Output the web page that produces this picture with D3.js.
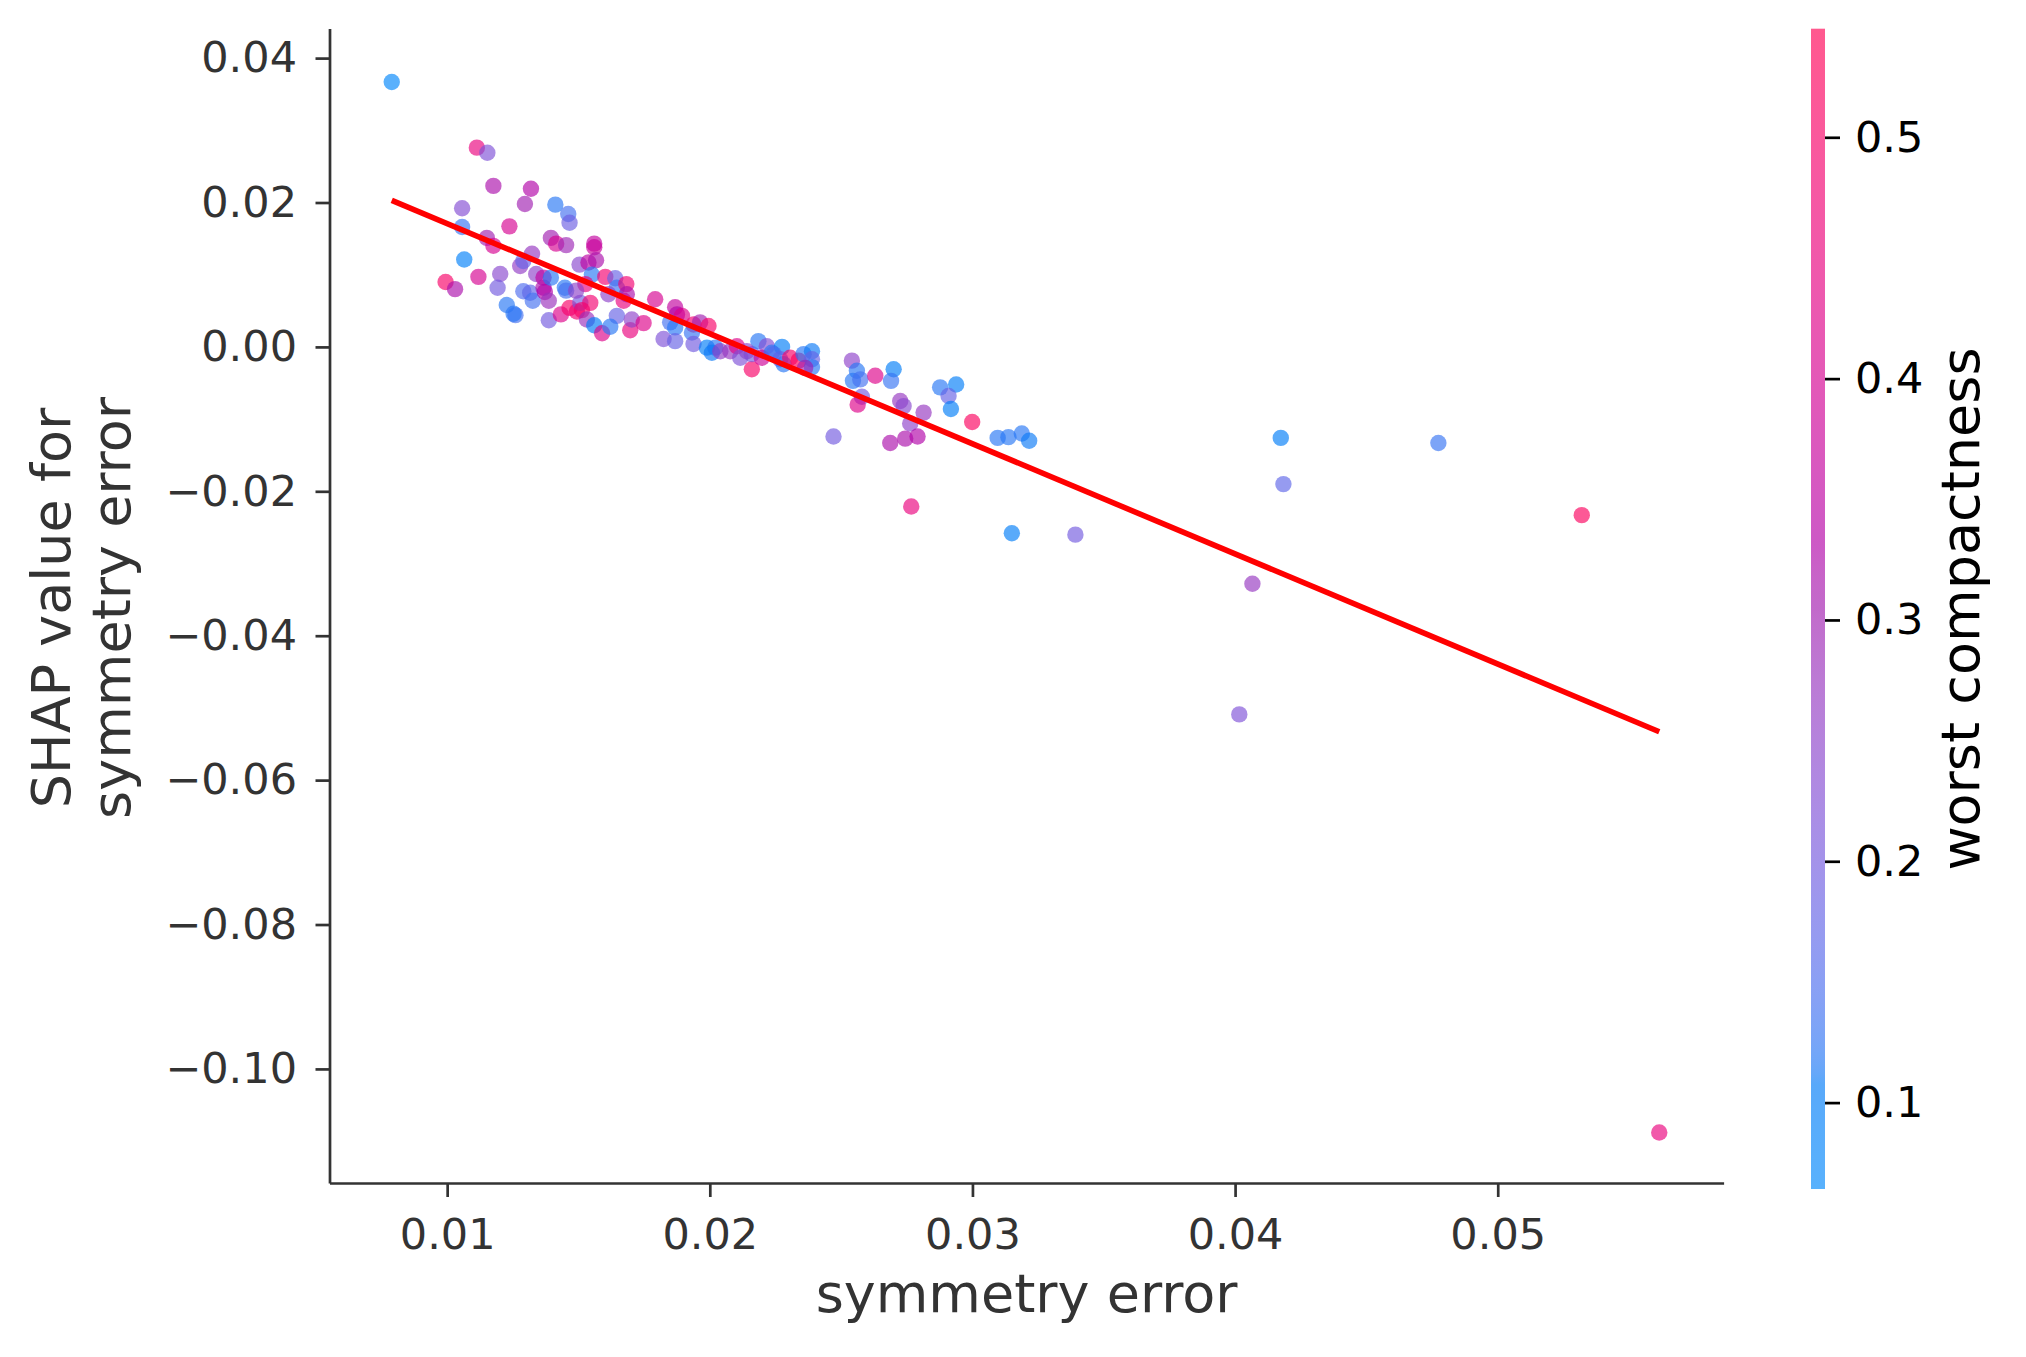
<!DOCTYPE html>
<html><head><meta charset="utf-8">
<script src="https://cdn.jsdelivr.net/npm/d3@7"></script>
<style>body{margin:0;background:#fff} svg{display:block}</style>
</head><body>
<svg id="chart" width="2026" height="1357"></svg>
<script>
// ---- data ----
const symmetryError = [0.00789,0.01113,0.01153,0.01176,0.01319,0.01296,0.01412,0.01461,0.01466,0.01057,
0.01057,0.01237,0.01151,0.01176,0.01395,0.01415,0.01453,0.0156,0.0156,0.01065,
0.01119,0.00994,0.0103,0.01202,0.01192,0.01227,0.0126,0.01253,0.01278,0.0129,
0.01323,0.0129,0.01316,0.01326,0.01339,0.01367,0.01367,0.01372,0.01387,0.01395,
0.01387,0.01448,0.01453,0.01433,0.01466,0.01494,0.01507,0.01513,0.01532,0.01545,
0.01504,0.01538,0.01567,0.01551,0.01526,0.01491,0.0156,0.0159,0.01602,0.0164,
0.01646,0.01682,0.01614,0.01672,0.01684,0.01646,0.01621,0.01697,0.01703,0.01748,
0.01792,0.01824,0.01868,0.01875,0.01849,0.01868,0.01868,0.01894,0.01938,0.01963,
0.01995,0.01932,0.01938,0.01989,0.02021,0.02008,0.0204,0.02078,0.02103,0.02116,
0.0216,0.0216,0.02185,0.02217,0.02198,0.02236,0.02275,0.02268,0.02281,0.02306,
0.02338,0.02357,0.02389,0.02389,0.02389,0.02363,0.02541,0.0256,0.02545,0.02573,
0.0263,0.027,0.0269,0.02579,0.02563,0.02725,0.02738,0.02814,0.02763,0.02687,
0.02744,0.02791,0.02877,0.02938,0.02909,0.02918,0.02999,0.03096,0.03137,0.03188,
0.03216,0.02471,0.02767,0.0315,0.03392,0.04174,0.04184,0.04066,0.04016,0.04774,
0.0532,0.05615,0.02243,0.02141];
const shapValues = [0.0367,0.0276,0.0269,0.0223,0.0219,0.0198,0.0197,0.0184,0.0172,0.0192,
0.0166,0.0167,0.0151,0.0140,0.0151,0.0143,0.0141,0.0143,0.0138,0.0121,
0.0097,0.0090,0.0080,0.0101,0.0082,0.0058,0.0044,0.0046,0.0112,0.0119,
0.0129,0.0077,0.0075,0.0064,0.0101,0.0096,0.0082,0.0076,0.0064,0.0096,
0.0037,0.0082,0.0078,0.0045,0.0054,0.0049,0.0061,0.0051,0.0038,0.0061,
0.0114,0.0117,0.0120,0.0100,0.0087,0.0078,0.0030,0.0019,0.0097,0.0095,
0.0082,0.0087,0.0073,0.0064,0.0073,0.0043,0.0028,0.0023,0.0038,0.0033,
0.0066,0.0011,0.0055,0.0045,0.0034,0.0027,0.0008,0.0043,0.0031,0.0034,
0.0029,0.0020,0.0004,-0.0001,-0.0001,-0.0008,-0.0006,-0.0006,0.0001,-0.0015,
-0.0031,-0.0010,0.0008,0.0001,-0.0015,-0.0008,0.0000,-0.0017,-0.0024,-0.0015,
-0.0019,-0.0010,-0.0006,-0.0017,-0.0028,-0.0029,-0.0019,-0.0033,-0.0047,-0.0045,
-0.0040,-0.0031,-0.0047,-0.0069,-0.0080,-0.0075,-0.0082,-0.0091,-0.0106,-0.0133,
-0.0127,-0.0124,-0.0056,-0.0052,-0.0068,-0.0086,-0.0104,-0.0126,-0.0125,-0.0120,
-0.0130,-0.0124,-0.0221,-0.0258,-0.0260,-0.0126,-0.0190,-0.0328,-0.0509,-0.0133,
-0.0233,-0.1088,-0.0010,-0.0006];
const worstCompactness = [0.07,0.45,0.22,0.32,0.33,0.30,0.12,0.14,0.19,0.23,
0.13,0.40,0.30,0.40,0.30,0.40,0.29,0.36,0.37,0.09,
0.40,0.50,0.32,0.24,0.20,0.12,0.14,0.12,0.26,0.18,
0.27,0.15,0.17,0.14,0.25,0.36,0.32,0.33,0.28,0.12,
0.20,0.12,0.14,0.42,0.50,0.48,0.20,0.50,0.28,0.48,
0.24,0.35,0.32,0.12,0.45,0.25,0.10,0.42,0.48,0.18,
0.13,0.48,0.25,0.45,0.32,0.18,0.12,0.45,0.25,0.42,
0.40,0.22,0.36,0.33,0.14,0.12,0.18,0.42,0.48,0.30,
0.50,0.13,0.20,0.10,0.12,0.11,0.26,0.27,0.42,0.22,
0.50,0.20,0.12,0.23,0.38,0.12,0.10,0.20,0.12,0.50,
0.52,0.12,0.11,0.18,0.12,0.30,0.25,0.12,0.12,0.14,
0.42,0.10,0.13,0.20,0.42,0.27,0.24,0.27,0.25,0.32,
0.32,0.33,0.12,0.10,0.18,0.10,0.52,0.12,0.12,0.12,
0.11,0.20,0.45,0.10,0.20,0.10,0.17,0.27,0.22,0.13,
0.52,0.45,0.15,0.24];
const fitX = [0.00789, 0.05615];
const fitY = [0.0203, -0.0533];
const xTicks = [0.01, 0.02, 0.03, 0.04, 0.05];
const yTicks = [0.04, 0.02, 0.00, -0.02, -0.04, -0.06, -0.08, -0.10];
const cTicks = [0.1, 0.2, 0.3, 0.4, 0.5];
const xLabel = "symmetry error";
const yLabelLines = ["SHAP value for", "symmetry error"];
const cLabel = "worst compactness";

// ---- layout ----
const L = 329.5, R = 1723.6, T = 28.5, B = 1183;
const cbX = 1811, cbW = 14, cbT = 28.7, cbB = 1189;
const ALPHA = 0.65;
const axisColor = "#333333";
const tickFont = 43, labelFont = 54;

const svg = d3.select("#chart");
const x = d3.scaleLinear().domain([0.00552, 0.0586]).range([L, R]);
const y = d3.scaleLinear().domain([-0.1158, 0.0441]).range([B, T]);
const cMin = 0.0642, cMax = 0.545;
const cScale = d3.scaleLinear().domain([cMin, cMax]).range([cbB, cbT]);

// SHAP red_blue colormap (LCH interpolation)
function redBlue(t) {
  t = Math.max(0, Math.min(1, t));
  const l = t < 0.5 ? 54 + (40 - 54) * (t / 0.5) : 40 + (54 - 40) * ((t - 0.5) / 0.5);
  const c = 70 + 20 * t;
  const h = 266.93 + (380.32 - 266.93) * t;
  return d3.hcl(h, c, l).formatRgb();
}
const colorOf = v => redBlue((v - cMin) / (cMax - cMin));

// points
const pts = symmetryError.map((d, i) => ({x: d, y: shapValues[i], c: worstCompactness[i]}));
svg.append("g").selectAll("circle").data(pts).join("circle")
  .attr("cx", d => x(d.x)).attr("cy", d => y(d.y)).attr("r", 8.2)
  .attr("fill", d => colorOf(d.c)).attr("fill-opacity", ALPHA);

// fit line
svg.append("line")
  .attr("x1", x(fitX[0])).attr("y1", y(fitY[0]))
  .attr("x2", x(fitX[1])).attr("y2", y(fitY[1]))
  .attr("stroke", "#ff0000").attr("stroke-width", 5.6).attr("stroke-linecap", "butt");

// axes
const fmt2 = d3.format(".2f");
const gy = svg.append("g").attr("transform", `translate(${L},0)`)
  .call(d3.axisLeft(y).tickValues(yTicks).tickSize(14).tickSizeOuter(0).tickPadding(18.5).tickFormat(fmt2));
const gx = svg.append("g").attr("transform", `translate(0,${B})`)
  .call(d3.axisBottom(x).tickValues(xTicks).tickSize(14).tickSizeOuter(0).tickPadding(21).tickFormat(fmt2));
[gx, gy].forEach(g => {
  g.select(".domain").attr("stroke", axisColor).attr("stroke-width", 2.7);
  g.selectAll(".tick line").attr("stroke", axisColor).attr("stroke-width", 2.7);
  g.selectAll(".tick text").attr("fill", axisColor)
    .style("font-family", "DejaVu Sans").style("font-size", tickFont + "px");
});

// axis labels
svg.append("text").attr("x", (L + R) / 2).attr("y", 1312)
  .attr("text-anchor", "middle").attr("fill", axisColor)
  .style("font-family", "DejaVu Sans").style("font-size", labelFont + "px").text(xLabel);
const yl = svg.append("g").attr("transform", `translate(0,608) rotate(-90)`);
yLabelLines.forEach((s, i) => {
  yl.append("text").attr("x", 0).attr("y", 70 + i * 60).attr("text-anchor", "middle")
    .attr("fill", axisColor).style("font-family", "DejaVu Sans").style("font-size", labelFont + "px").text(s);
});

// colorbar
const defs = svg.append("defs");
const grad = defs.append("linearGradient").attr("id", "cbgrad")
  .attr("x1", 0).attr("y1", 1).attr("x2", 0).attr("y2", 0);
d3.range(0, 101).forEach(i => {
  grad.append("stop").attr("offset", (i / 100)).attr("stop-color", redBlue(i / 100));
});
svg.append("rect").attr("x", cbX).attr("y", cbT).attr("width", cbW).attr("height", cbB - cbT)
  .attr("fill", "url(#cbgrad)").attr("fill-opacity", ALPHA);
const gc = svg.append("g").attr("transform", `translate(${cbX + cbW},0)`)
  .call(d3.axisRight(cScale).tickValues(cTicks).tickSize(15).tickSizeOuter(0).tickPadding(15).tickFormat(d3.format(".1f")));
gc.select(".domain").remove();
gc.selectAll(".tick line").attr("stroke", "#000").attr("stroke-width", 2.7);
gc.selectAll(".tick text").attr("fill", "#000")
  .style("font-family", "DejaVu Sans").style("font-size", tickFont + "px");
svg.append("g").attr("transform", `translate(0,609) rotate(-90)`)
  .append("text").attr("x", 0).attr("y", 1979).attr("text-anchor", "middle").attr("fill", "#000")
  .style("font-family", "DejaVu Sans").style("font-size", labelFont + "px").text(cLabel);
</script>
</body></html>
